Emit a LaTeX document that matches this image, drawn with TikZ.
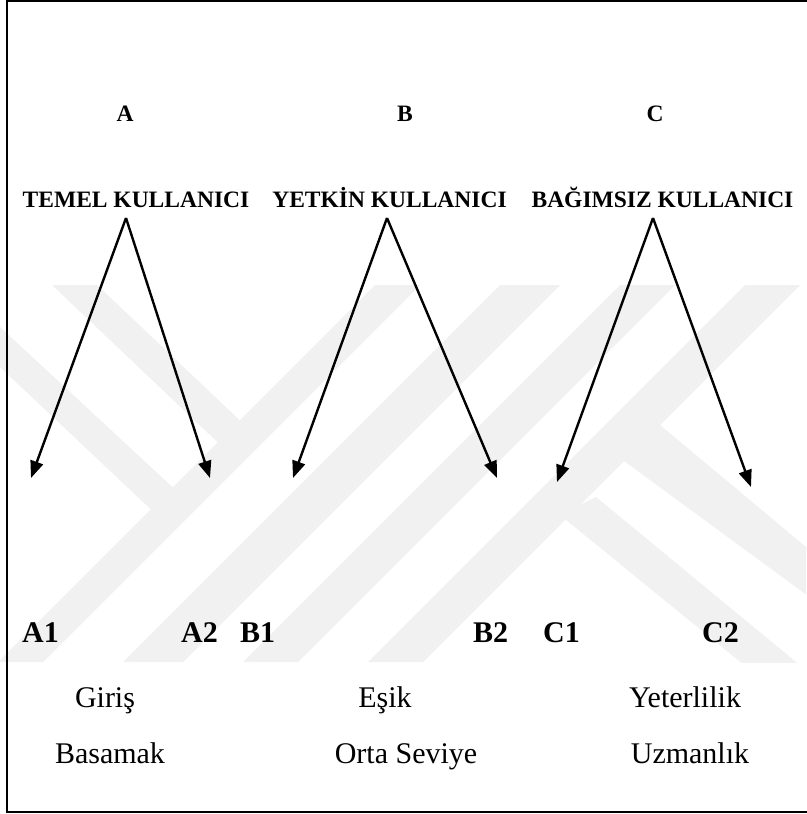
\documentclass[tikz,border=0pt]{standalone}
\usepackage{fontspec}
\setmainfont{Liberation Serif}
\usetikzlibrary{arrows.meta}
\definecolor{wm}{gray}{0.945}
\begin{document}
\begin{tikzpicture}[x=1pt,y=-1pt,
  lvl/.style={font=\fontsize{23.5}{26}\selectfont\bfseries, anchor=base, inner sep=0pt},
  sub/.style={font=\fontsize{30}{34}\selectfont\bfseries, anchor=base west, inner sep=0pt},
  desc/.style={font=\fontsize{30}{34}\selectfont, anchor=base, inner sep=0pt},
  link/.style={line width=2.4pt, -{Triangle[length=17pt,width=13pt]}},
  stripe/.style={fill=wm, draw=none}]
\useasboundingbox (0,0) rectangle (806,814);
\fill[white] (0,0) rectangle (806,814);

% faint background emblem
\begin{scope}
\clip (0,285) rectangle (806,662);
% rising stripes
\fill[stripe] (375,285) -- (420,285) -- (43,662) -- (-2,662) -- cycle;
\fill[stripe] (500,285) -- (560,285) -- (183,662) -- (123,662) -- cycle;
\fill[stripe] (620,285) -- (675,285) -- (298,662) -- (243,662) -- cycle;
\fill[stripe] (745,285) -- (800,285) -- (423,662) -- (368,662) -- cycle;
% falling stripes on the left
\fill[stripe] (52,285) -- (97,285) -- (250,430) -- (228,452) -- cycle;
\fill[stripe] (0,327) -- (182,496) -- (160,518) -- (0,367) -- cycle;
% falling stripes on the right
\fill[stripe] (620,458) -- (660,425) -- (830,567) -- (830,612) -- cycle;
\fill[stripe] (560,515) -- (596,497) -- (830,690) -- (830,735) -- cycle;
\end{scope}

% open frame (right side runs off the page)
\draw[line width=2.4pt] (830,1.2) -- (7,1.2) -- (7,812) -- (830,812);

% level letters
\node[lvl] (A) at (125,121) {A};
\node[lvl] (B) at (405,121) {B};
\node[lvl] (C) at (655,121) {C};

% user groups
\node[lvl] (hA) at (136,207) {TEMEL KULLANICI};
\node[lvl] (hB) at (389.5,207) {YETKİN KULLANICI};
\node[lvl] (hC) at (662.5,207) {BAĞIMSIZ KULLANICI};

% branch points and arrow ends
\coordinate (pA) at (126,218);
\coordinate (pB) at (387,218);
\coordinate (pC) at (653,218);
\coordinate (a1) at (31,478);
\coordinate (a2) at (210,478);
\coordinate (b1) at (293,478);
\coordinate (b2) at (497,478);
\coordinate (c1) at (557,482);
\coordinate (c2) at (751,487);

\draw[link] (pA) -- (a1);
\draw[link] (pA) -- (a2);
\draw[link] (pB) -- (b1);
\draw[link] (pB) -- (b2);
\draw[link] (pC) -- (c1);
\draw[link] (pC) -- (c2);

% sub-levels
\node[sub] (A1) at (22,642) {A1};
\node[sub] (A2) at (181,642) {A2};
\node[sub] (B1) at (240,642) {B1};
\node[sub] (B2) at (473,642) {B2};
\node[sub] (C1) at (543,642) {C1};
\node[sub] (C2) at (702,642) {C2};

% descriptions
\node[desc] (d1) at (105,707) {Giriş};
\node[desc] (d2) at (385,707) {Eşik};
\node[desc] (d3) at (685,707) {Yeterlilik};
\node[desc] (e1) at (110,763) {Basamak};
\node[desc] (e2) at (406,763) {Orta Seviye};
\node[desc] (e3) at (690,763) {Uzmanlık};
\end{tikzpicture}
\end{document}
